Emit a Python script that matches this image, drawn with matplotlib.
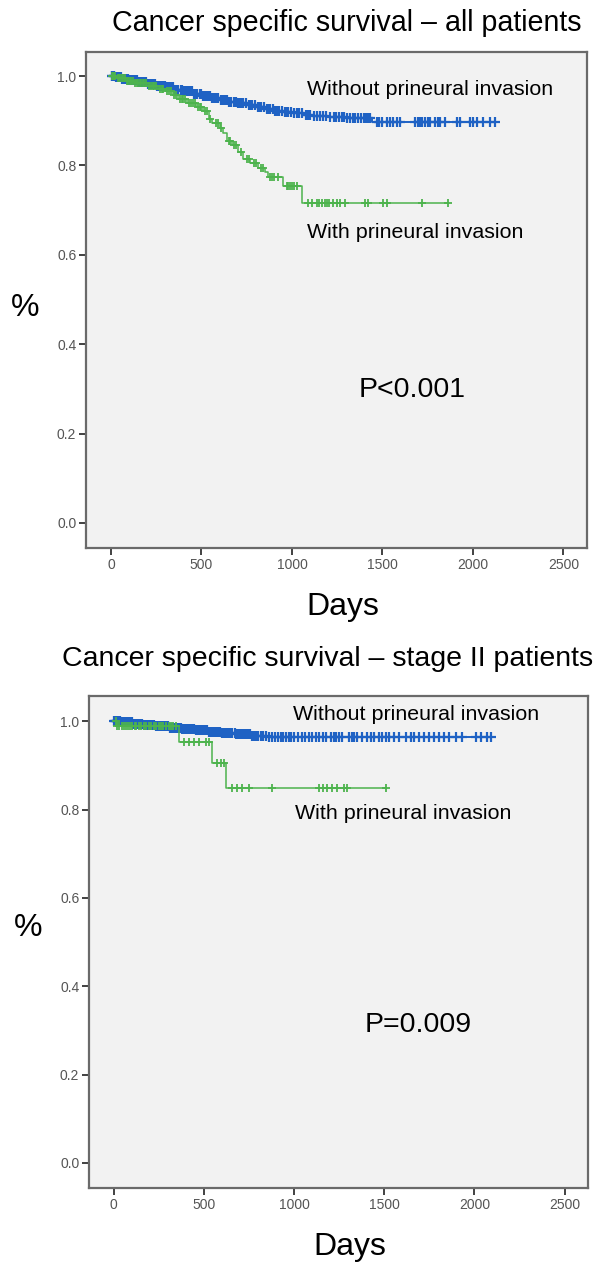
import numpy as np
import matplotlib.pyplot as plt

# ---- all patients ----
all_wo_t = [0, 20, 60, 100, 150, 200, 250, 300, 350, 400, 450, 500, 550, 600, 650,
            700, 750, 800, 850, 900, 950, 1000, 1060, 1120, 1200, 1300, 1442]
all_wo_s = [1.0, 0.997, 0.994, 0.991, 0.987, 0.983, 0.979, 0.975, 0.970, 0.966, 0.961,
            0.956, 0.951, 0.947, 0.943, 0.939, 0.935, 0.931, 0.927, 0.923, 0.920, 0.917,
            0.914, 0.911, 0.908, 0.906, 0.897]
all_wo_c = [3, 8, 14, 19, 25, 31, 36, 40, 47, 55, 61, 66, 72, 79, 88, 94, 101, 110, 117,
            125, 131, 140, 146, 153, 165, 172, 180, 188, 195, 203, 215, 222, 229, 235,
            244, 252, 260, 268, 275, 283, 290, 298, 306, 315, 322, 330, 338, 345, 353,
            365, 372, 385, 393, 402, 410, 418, 425, 432, 440, 448, 458, 470, 477, 490,
            498, 510, 517, 530, 538, 547, 560, 568, 575, 583, 590, 605, 620, 628, 640,
            652, 665, 677, 690, 700, 710, 720, 730, 745, 760, 770, 780, 795, 810, 820,
            830, 845, 860, 870, 880, 893, 905, 918, 930, 945, 960, 970, 980, 995, 1010,
            1025, 1040, 1058, 1075, 1088, 1100, 1120, 1140, 1155, 1170, 1190, 1210, 1230,
            1245, 1260, 1275, 1290, 1305, 1320, 1335, 1350, 1365, 1380, 1400, 1410, 1420,
            1432, 1470, 1480, 1500, 1525, 1540, 1558, 1580, 1597, 1680, 1695, 1707, 1720,
            1735, 1750, 1762, 1790, 1805, 1818, 1845, 1912, 1928, 1983, 2000, 2022, 2055,
            2094, 2122]

all_w_t = [0, 30, 80, 130, 200, 260, 300, 340, 370, 420, 470, 510, 540, 560, 600, 620,
           640, 670, 700, 730, 770, 810, 850, 870, 950, 1055]
all_w_s = [1.0, 0.995, 0.990, 0.985, 0.978, 0.972, 0.966, 0.958, 0.948, 0.940, 0.932,
           0.922, 0.905, 0.895, 0.885, 0.872, 0.855, 0.845, 0.830, 0.815, 0.805, 0.795,
           0.785, 0.775, 0.755, 0.716]
all_w_c = [5, 10, 18, 24, 38, 45, 52, 60, 68, 75, 88, 95, 103, 110, 120, 135, 142, 150,
           160, 168, 175, 185, 192, 210, 220, 232, 240, 250, 268, 280, 290, 312, 320, 330,
           350, 360, 380, 390, 400, 410, 430, 440, 452, 462, 480, 490, 500, 520, 530, 548,
           580, 590, 610, 650, 660, 680, 690, 720, 750, 760, 790, 800, 830, 840, 880, 890,
           900, 920, 970, 980, 990, 1000, 1010, 1030, 1088, 1110, 1138, 1150, 1166, 1180,
           1193, 1205, 1227, 1249, 1265, 1293, 1403, 1420, 1503, 1525, 1718, 1862]

# ---- stage II patients ----
st2_wo_t = [0, 40, 100, 160, 230, 300, 380, 450, 520, 600, 680, 760, 850]
st2_wo_s = [1.0, 0.997, 0.994, 0.991, 0.988, 0.985, 0.982, 0.979, 0.976, 0.973, 0.970,
            0.967, 0.964]
st2_wo_c = [2, 6, 11, 15, 20, 26, 30, 35, 42, 50, 56, 65, 72, 78, 85, 92, 98, 105, 112,
            120, 128, 135, 140, 148, 156, 165, 170, 178, 185, 190, 198, 205, 210, 218,
            225, 233, 240, 248, 255, 260, 268, 275, 280, 290, 298, 310, 318, 325, 330,
            340, 350, 358, 365, 370, 380, 388, 395, 405, 412, 420, 430, 440, 447, 455,
            465, 475, 482, 490, 500, 510, 518, 528, 540, 550, 560, 570, 580, 590, 600,
            610, 620, 632, 645, 655, 670, 680, 690, 700, 710, 720, 732, 745, 755, 765,
            780, 790, 800, 815, 830, 845, 860, 880, 895, 910, 925, 940, 955, 970, 985,
            1000, 1020, 1044, 1060, 1083, 1100, 1122, 1139, 1160, 1178, 1206, 1220, 1233,
            1250, 1267, 1306, 1320, 1333, 1350, 1378, 1406, 1428, 1444, 1472, 1489, 1511,
            1528, 1556, 1583, 1622, 1650, 1667, 1694, 1722, 1750, 1778, 1806, 1833, 1861,
            1900, 1933, 2011, 2039, 2072, 2094]

st2_w_t = [0, 15, 361, 544, 622]
st2_w_s = [1.0, 0.990, 0.952, 0.905, 0.848]
st2_w_c = [10, 20, 28, 45, 55, 67, 80, 90, 100, 115, 125, 139, 150, 165, 178, 195, 206,
           220, 233, 250, 261, 275, 289, 305, 317, 330, 344, 389, 417, 444, 472, 511, 528,
           572, 594, 611, 656, 683, 711, 750, 878, 1139, 1160, 1185, 1211, 1240, 1278,
           1294, 1511]

BLUE = '#1f62c4'
GREEN = '#4db34d'
TXT = 'Liberation Sans'
TICKF = ['Liberation Sans Narrow', 'Liberation Sans']


def km(ax, t, s, c, color, end, ms, mew, lw):
    t = np.asarray(t, float)
    s = np.asarray(s, float)
    ax.step(np.append(t, end), np.append(s, s[-1]), where='post', color=color, lw=lw)
    c = np.asarray(c, float)
    cs = s[np.searchsorted(t, c, side='right') - 1]
    ax.plot(c, cs, ls='none', marker='+', ms=ms, mew=mew, color=color)


def style(ax, ylim):
    ax.set_facecolor('#f2f2f2')
    ax.set_xlim(-138, 2630)
    ax.set_ylim(*ylim)
    ax.set_xticks([0, 500, 1000, 1500, 2000, 2500])
    ax.set_yticks([0.0, 0.2, 0.4, 0.6, 0.8, 1.0])
    ax.set_yticklabels(['0.0', '0.2', '0.4', '0.6', '0.8', '1.0'])
    for sp in ax.spines.values():
        sp.set_color('#6a6a6a')
        sp.set_linewidth(1.6)
    ax.tick_params(length=5, width=1.3, color='#333333', labelcolor='#555555',
                   labelsize=10, pad=2)
    for lab in ax.get_xticklabels() + ax.get_yticklabels():
        lab.set_family(TICKF)


fig = plt.figure(figsize=(6.02, 12.62), dpi=100)

ax1 = fig.add_axes([0.1429, 0.5658, 0.8322, 0.3930])
km(ax1, all_wo_t, all_wo_s, all_wo_c, BLUE, 2133, 7, 1.6, 1.4)
km(ax1, all_w_t, all_w_s, all_w_c, GREEN, 1862, 6, 1.3, 1.1)
style(ax1, (-0.056, 1.054))
ax1.text(1083, 0.971, 'Without prineural invasion', family=TXT, fontsize=15.4, va='center')
ax1.text(1083, 0.649, 'With prineural invasion', family=TXT, fontsize=15.4, va='center')
ax1.text(1663, 0.298, 'P<0.001', family=TXT, fontsize=20.5, ha='center', va='center')

ax2 = fig.add_axes([0.1478, 0.0586, 0.8289, 0.3899])
km(ax2, st2_wo_t, st2_wo_s, st2_wo_c, BLUE, 2094, 7, 1.6, 1.4)
km(ax2, st2_w_t, st2_w_s, st2_w_c, GREEN, 1511, 6, 1.3, 1.1)
style(ax2, (-0.057, 1.057))
ax2.text(994, 1.014, 'Without prineural invasion', family=TXT, fontsize=15.4, va='center')
ax2.text(1006, 0.792, 'With prineural invasion', family=TXT, fontsize=15.4, va='center')
ax2.text(1689, 0.312, 'P=0.009', family=TXT, fontsize=20.5, ha='center', va='center')

fig.text(347 / 602, 1 - 23 / 1262, 'Cancer specific survival \u2013 all patients',
         family=TXT, fontsize=20.6, ha='center', va='center')
fig.text(328 / 602, 1 - 659 / 1262, 'Cancer specific survival \u2013 stage II patients',
         family=TXT, fontsize=20.5, ha='center', va='center')
fig.text(25 / 602, 1 - 308 / 1262, '%', family=TXT, fontsize=23, ha='center', va='center')
fig.text(28 / 602, 1 - 928 / 1262, '%', family=TXT, fontsize=23, ha='center', va='center')
fig.text(343 / 602, 1 - 607 / 1262, 'Days', family=TXT, fontsize=23, ha='center', va='center')
fig.text(350 / 602, 1 - 1247 / 1262, 'Days', family=TXT, fontsize=23, ha='center', va='center')

fig.savefig('out.png', dpi=100, facecolor='white')
